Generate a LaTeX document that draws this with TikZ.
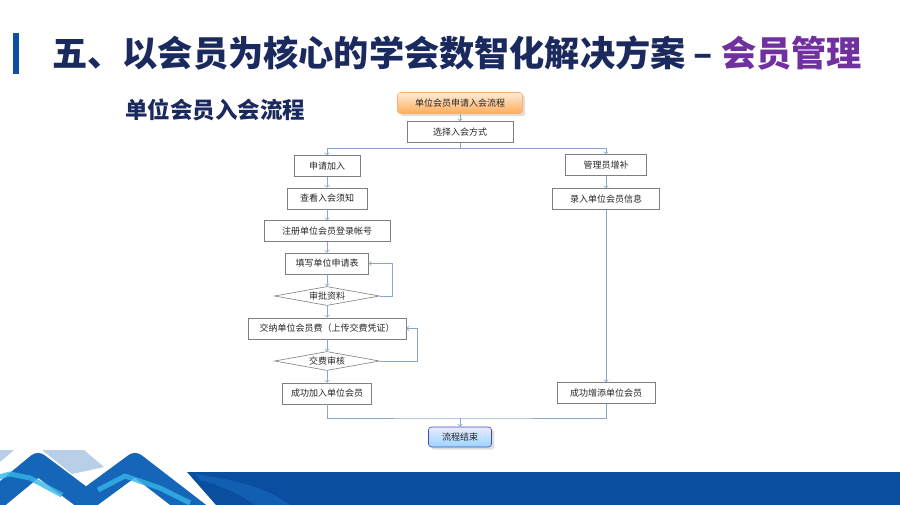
\documentclass[tikz,border=0pt]{standalone}
\usepackage{fontspec}
\setmainfont{Noto Sans CJK SC}
\usetikzlibrary{shapes.geometric,positioning,shadows}
\definecolor{navy}{HTML}{1B2A5E}
\definecolor{mgmt}{HTML}{7030A0}
\definecolor{barblue}{HTML}{0B4EA2}
\definecolor{boxline}{HTML}{7F7F7F}
\definecolor{txt}{HTML}{262626}
\definecolor{linec}{HTML}{8AA6CC}
\definecolor{bandblue}{HTML}{0A4F9F}
\definecolor{mtblue}{HTML}{1565B8}
\definecolor{mtcyan}{HTML}{35B6E6}
\definecolor{mtpale}{HTML}{B9CFE7}
\tikzset{node distance=32.5pt,
  stepbox/.style={draw=boxline, line width=0.6pt, fill=white, text=txt,
    font=\fontsize{9}{9}\selectfont, minimum height=21pt, inner sep=2pt},
  check/.style={diamond, draw=boxline, line width=0.6pt, fill=white, text=txt,
    font=\fontsize{9}{9}\selectfont, aspect=6, minimum width=105pt,
    minimum height=19pt, inner sep=0pt},
  startbox/.style={stepbox, draw=orange!70!brown!60, rounded corners=3pt,
    top color=orange!15, bottom color=orange!65, drop shadow={opacity=0.25}},
  endbox/.style={stepbox, draw=blue!45!gray, rounded corners=3pt,
    top color=blue!8, bottom color=blue!40!cyan!40, drop shadow={opacity=0.25}},
  flow/.style={draw=linec, line width=0.8pt, ->},
  link/.style={draw=linec, line width=0.8pt}}

\begin{document}
\begin{tikzpicture}[x=1pt,y=-1pt]
  \useasboundingbox (0,0) rectangle (900,505);
  \fill[white] (0,0) rectangle (900,505);
  % title
  \fill[barblue] (13,33) rectangle (19,74);
  \node[anchor=west, inner sep=0pt, font=\fontsize{35.2}{35.2}\selectfont\bfseries] (title) at (52,53)
    {\textcolor{navy}{五、以会员为核心的学会数智化解决方案 –} \textcolor{mgmt}{会员管理}};
  \node[anchor=west, inner sep=0pt, text=navy, font=\fontsize{22.5}{22.5}\selectfont\bfseries] (sub) at (125,110)
    {单位会员入会流程};
  % flow chart
  \node[startbox, minimum width=125pt] (start) at (460,103) {单位会员申请入会流程};
  \node[stepbox, minimum width=106pt] (choose) at (460,132) {选择入会方式};
  \node[stepbox, minimum width=66pt] (apply) at (327,166) {申请加入};
  \node[stepbox, minimum width=80pt, below of=apply] (notice) {查看入会须知};
  \node[stepbox, minimum width=126pt, below of=notice] (register) {注册单位会员登录帐号};
  \node[stepbox, minimum width=83pt, below of=register] (form) {填写单位申请表};
  \node[check, below of=form] (review) {审批资料};
  \node[stepbox, minimum width=158pt, below of=review] (pay) {交纳单位会员费（上传交费凭证）};
  \node[check, below of=pay] (audit) {交费审核};
  \node[stepbox, minimum width=89pt, below of=audit] (joined) {成功加入单位会员};
  \node[stepbox, minimum width=81pt] (admin) at (606,165) {管理员增补};
  \node[stepbox, minimum width=107pt, below of=admin, node distance=34pt] (entry) {录入单位会员信息};
  \node[stepbox, minimum width=98pt] (added) at (606,393) {成功增添单位会员};
  \node[endbox, minimum width=63pt, minimum height=20pt] (finish) at (460,437) {流程结束};
  \coordinate (merge) at (460,418);

  \draw[flow] (start) -- (choose);
  \draw[link] (choose.south) -- ++(0,6) coordinate (split);
  \draw[flow] (split) -| (apply.north);
  \draw[flow] (split) -| (admin.north);
  \foreach \a/\b in {apply/notice, notice/register, register/form, form/review,
      review/pay, pay/audit, audit/joined, admin/entry, entry/added}
    \draw[flow] (\a) -- (\b);
  \draw[flow] (review.east) -- ++(13,0) |- (form.east);
  \draw[flow] (audit.east) -- ++(38,0) |- (pay.east);
  \draw[link] (joined.south) |- (merge) -| (added.south);
  \draw[flow] (merge) -- (finish);

  % footer
  \fill[bandblue] (187,472) -- (900,472) -- (900,505) -- (216,505) -- cycle;
  \fill[mtblue!70!bandblue] (195,474) .. controls (240,480) and (270,490) .. (290,505) -- (255,505)
    .. controls (240,494) and (220,485) .. (200,480) -- cycle;
  \fill[mtpale] (0,450) -- (14,450) -- (0,462) -- cycle;
  \fill[mtpale] (42,450) -- (84,450) -- (104,467) -- (72,474) -- cycle;
  \draw[mtblue, line width=22pt, line join=round] (-14,507) -- (38,464) -- (86,500) -- (135,464) -- (205,518);
  \draw[mtcyan, line width=5pt, line join=round, opacity=0.8] (-12,480) -- (10,474) -- (30,478) -- (62,495);
  \draw[mtcyan, line width=5pt, line join=round, opacity=0.8] (98,490) -- (125,476) -- (160,488) -- (190,503);
\end{tikzpicture}
\end{document}
